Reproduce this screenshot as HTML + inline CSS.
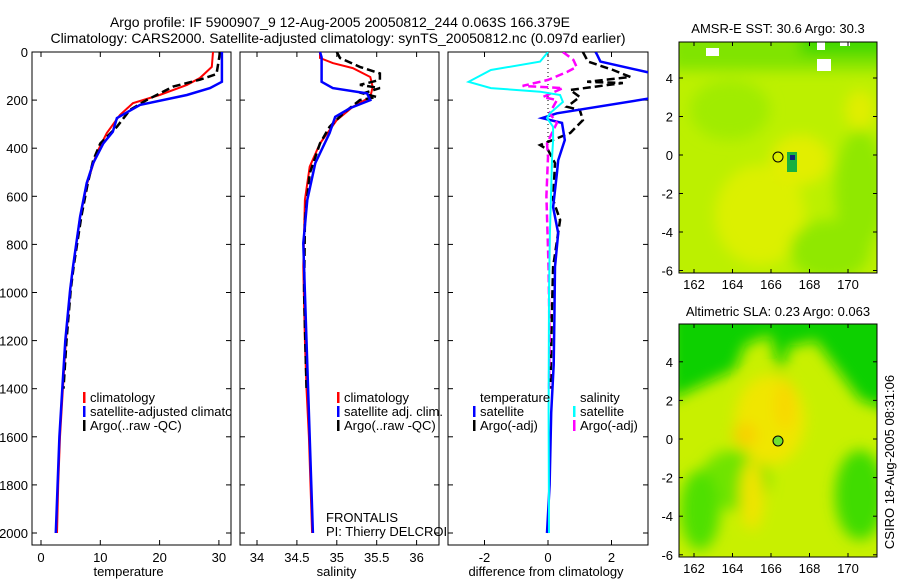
<!DOCTYPE html>
<html><head><meta charset="utf-8"><style>
html,body{margin:0;padding:0;background:#fff}
svg{display:block;font-family:"Liberation Sans",sans-serif}
text{font-size:13px;fill:#000}
</style></head><body>
<svg id="c" width="900" height="580" viewBox="0 0 900 580" xmlns="http://www.w3.org/2000/svg">
<defs>
<filter id="bl" x="-20%" y="-20%" width="140%" height="140%"><feGaussianBlur stdDeviation="7"/></filter>
<clipPath id="cm1"><rect x="679" y="42" width="198" height="231"/></clipPath>
<clipPath id="cm2"><rect x="679" y="324" width="198" height="233"/></clipPath>
<clipPath id="cp1"><rect x="32" y="52" width="199" height="493"/></clipPath>
<clipPath id="cp2"><rect x="240" y="52" width="199" height="493"/></clipPath>
<clipPath id="cp3"><rect x="448" y="52" width="200" height="493"/></clipPath>
<clipPath id="cl2"><rect x="240" y="52" width="207" height="493"/></clipPath>
</defs>
<text x="340" y="27" text-anchor="middle" style="font-size:14px">Argo profile: IF 5900907_9 12-Aug-2005 20050812_244 0.063S 166.379E</text>
<text x="338" y="43" text-anchor="middle" style="font-size:14px">Climatology: CARS2000. Satellite-adjusted climatology: synTS_20050812.nc (0.097d earlier)</text>

<g clip-path="url(#cm1)">
<rect x="679" y="42" width="198" height="231" fill="#bcf000"/>
<g filter="url(#bl)">
<rect x="670" y="30" width="220" height="40" fill="#80e400"/>
<rect x="800" y="30" width="90" height="25" fill="#40d800"/>
<ellipse cx="730" cy="110" rx="40" ry="30" fill="#a0ec00"/>
<ellipse cx="760" cy="215" rx="45" ry="50" fill="#dcf000"/>
<ellipse cx="860" cy="190" rx="25" ry="60" fill="#90e800"/>
<ellipse cx="830" cy="250" rx="40" ry="30" fill="#90e800"/>
<ellipse cx="860" cy="110" rx="15" ry="20" fill="#e0ee00"/>
<ellipse cx="800" cy="160" rx="30" ry="25" fill="#e2ee00"/>
</g>
<rect x="787" y="152" width="10" height="20" fill="#18b040"/>
<rect x="790" y="155" width="5" height="5" fill="#102080"/>
<rect x="706" y="48" width="13" height="8" fill="#fff"/>
<rect x="817" y="42" width="8" height="8" fill="#fff"/>
<rect x="817" y="59" width="14" height="12" fill="#fff"/>
<rect x="840" y="42" width="10" height="4" fill="#fff"/>
</g>
<rect x="679" y="42" width="198" height="231" fill="none" stroke="#000"/>
<circle id="c1" cx="778" cy="157" r="5" fill="none" stroke="#000"/>
<text x="778" y="33" text-anchor="middle">AMSR-E SST: 30.6 Argo: 30.3</text>

<g clip-path="url(#cm2)">
<rect x="679" y="324" width="198" height="233" fill="#c8f000"/>
<g filter="url(#bl)">
<path d="M670 310 L890 310 L890 410 L860 400 L830 360 L815 340 L800 345 L790 345 L780 375 L770 335 L745 345 L735 370 L670 400 Z" fill="#10d000"/>
<ellipse cx="735" cy="480" rx="35" ry="30" fill="#70e400"/>
<ellipse cx="860" cy="495" rx="25" ry="45" fill="#40dc00"/>
<ellipse cx="700" cy="510" rx="20" ry="40" fill="#50e000"/>
<ellipse cx="770" cy="420" rx="35" ry="45" fill="#f0e600"/>
<ellipse cx="745" cy="435" rx="12" ry="12" fill="#f8d000"/>
<ellipse cx="785" cy="405" rx="10" ry="25" fill="#f8d800"/>
<ellipse cx="752" cy="495" rx="12" ry="35" fill="#f0e400"/>
</g>
</g>
<rect x="679" y="324" width="198" height="233" fill="none" stroke="#000"/>
<circle id="c2" cx="778" cy="441" r="5" fill="#70e030" stroke="#000"/>
<text x="778" y="316" text-anchor="middle">Altimetric SLA: 0.23 Argo: 0.063</text>
<text transform="translate(894,462) rotate(-90)" text-anchor="middle">CSIRO 18-Aug-2005 08:31:06</text>

<g id="plots"></g>
</svg>
<script>
var tempClimDepth=[0,62,108,137,179,213,262,337,420,545,685,893,990,1200,1400,1600,1800,2000];
var tempClim=[29.0,28.8,26.8,24.6,20.0,15.5,13.3,11.1,9.4,7.8,6.6,5.4,4.9,4.2,3.7,3.2,2.9,2.7];
var tempSatDepth=[0,124,150,179,220,275,332,380,462,545,685,893,990,1200,1400,1600,1800,2000];
var tempSat=[30.5,30.5,28.5,24.6,16.7,12.8,12.1,10.5,8.8,7.7,6.6,5.4,4.9,4.1,3.6,3.1,2.8,2.5];
var tempArgoDepth=[0,92,115,144,200,241,311,380,450,545,685,893,990,1200,1400];
var tempArgo=[30.2,29.6,26.8,22.3,17.8,15.0,12.8,10.0,8.8,7.9,6.8,5.5,5.0,4.3,3.8];
var salClimDepth=[0,25,46,67,104,145,187,228,283,380,477,615,893,1200,1400,1600,1800,2000];
var salClim=[34.79,34.79,34.95,35.2,35.42,35.45,35.42,35.2,35.0,34.79,34.66,34.6,34.58,34.6,34.62,34.65,34.67,34.69];
var salSatDepth=[0,22,124,150,172,200,233,270,337,462,615,795,1000,1200,1400,1600,1800,2000];
var salSat=[34.79,34.81,34.81,34.95,35.38,35.42,35.17,34.98,34.91,34.73,34.63,34.58,34.6,34.62,34.64,34.66,34.68,34.7];
var salArgoDepth=[0,25,62,89,116,137,150,172,187,200,255,311,380,505,700,1000,1400];
var salArgo=[35.0,35.04,35.29,35.54,35.54,35.29,35.54,35.33,35.5,35.29,35.08,34.91,34.79,34.66,34.6,34.59,34.62];
var dSalSatDepth=[0,40,75,124,150,165,179,208,255,275,311,366,436,753,1000,1500,2000];
var dSalSat=[0,-0.25,-1.8,-2.5,-1.8,-0.25,0.38,0.47,0.06,-0.03,0.16,0.16,0.13,0.06,0.03,0.02,0.03];
var dSalArgoDepth=[0,33,62,83,116,141,150,187,200,255,295,380,436,600,900,1200,1400];
var dSalArgo=[0.47,0.8,0.9,0.6,0,-0.8,0.47,-0.16,0.28,0.05,0.28,-0.03,0,-0.05,0.02,0.05,0.03];
var dTempSatDepth=[0,12,40,89,191,255,275,295,366,450,505,645,753,893,1100,1300,1500,1800,2000];
var dTempSat=[1.5,1.55,1.65,3.3,3.3,0.28,-0.19,0.44,0.53,0.32,0.28,0.16,0.32,0.22,0.2,0.18,0.1,0.05,-0.03];
var dTempArgoDepth=[0,40,75,104,124,129,158,187,228,241,283,337,387,407,462,615,698,893,1100,1400];
var dTempArgo=[1.1,1.26,2.05,2.6,1.23,2.36,0.7,1.0,0.6,1.0,1.1,0.7,-0.25,0,0.22,0.16,0.38,0.16,0.12,0.08];
var depthTicks=[0,200,400,600,800,1000,1200,1400,1600,1800,2000];
var tempTicks=[0,10,20,30];
var salTicks=[34,34.5,35,35.5,36];
var diffTicks=[-2,0,2];
var lonTicks=[162,164,166,168,170];
var latTicks=[4,2,0,-2,-4,-6];

var NS='http://www.w3.org/2000/svg';
function yD(d){return 52+d*0.2405;}
function xT(t){return 41+t*5.93;}
function xS(s){return 257+(s-34)*79.8;}
function xDf(v){return 548+v*31.75;}
function lonX(l){return 694+(l-162)*19.25;}
function lat1Y(l){return 155-l*19.25;}
function lat2Y(l){return 439-l*19.3;}
var G=document.getElementById('plots');
function el(t,a,p){var e=document.createElementNS(NS,t);for(var k in a)e.setAttribute(k,a[k]);(p||G).appendChild(e);return e;}
function txt(x,y,s,anc,p){var e=el('text',{x:x,y:y,'text-anchor':anc||'start'},p);e.textContent=s;return e;}

function panel(x0,w,name,ticks,xf,label,showDepth){
  var r=el('rect',{x:x0,y:52,width:w,height:493,fill:'none',stroke:'#000'});
  
  
  depthTicks.forEach(function(d){
    el('line',{x1:x0,x2:x0+5,y1:yD(d),y2:yD(d),stroke:'#000'});
    el('line',{x1:x0+w,x2:x0+w-5,y1:yD(d),y2:yD(d),stroke:'#000'});
    if(showDepth){var t=txt(x0-4,yD(d)+5,String(d),'end');}
  });
  ticks.forEach(function(v){
    var x=xf(v);
    el('line',{x1:x,x2:x,y1:545,y2:540,stroke:'#000'});
    el('line',{x1:x,x2:x,y1:52,y2:57,stroke:'#000'});
    var t=txt(x,562,String(v),'middle');
    
    
  });
  var l=txt(x0+w/2-(name=='diff'?2:3),576,label,'middle');
  
  
}
function line(xs,ds,xf,color,width,dash,clip,name){
  var pts=xs.map(function(v,i){return xf(v).toFixed(1)+','+yD(ds[i]).toFixed(1);}).join(' ');
  var a={points:pts,fill:'none',stroke:color,'stroke-width':width,'clip-path':'url(#'+clip+')'};
  if(dash)a['stroke-dasharray']=dash;
  var e=el('polyline',a);
  
  
}
function legend(x,y,items,clip){
  var g=el('g',clip?{'clip-path':'url(#'+clip+')'}:{});
  items.forEach(function(it,i){
    var yy=y+i*14;
    if(it[0]){el('rect',{x:x,y:yy-10,width:2.5,height:11,fill:it[0]},g);}
    var t=txt(x+(it[2]===undefined?7:it[2]),yy,it[1],'start',g);
    
    
  });
}

panel(32,199,'temperature',tempTicks,xT,'temperature',true);
line(tempClim,tempClimDepth,xT,'#f00',2,null,'cp1','temp-climatology-line');
line(tempArgo,tempArgoDepth,xT,'#000',2.5,'8,4','cp1','temp-argo-line');
line(tempSat,tempSatDepth,xT,'#00f',2.5,null,'cp1','temp-satellite-line');
legend(83,402,[['#f00','climatology'],['#00f','satellite-adjusted climatology'],['#000','Argo(..raw -QC)']],'cp1');

panel(240,199,'salinity',salTicks,xS,'salinity',false);
line(salClim,salClimDepth,xS,'#f00',2,null,'cp2','sal-climatology-line');
line(salArgo,salArgoDepth,xS,'#000',2.5,'8,4','cp2','sal-argo-line');
line(salSat,salSatDepth,xS,'#00f',2.5,null,'cp2','sal-satellite-line');
legend(337,402,[['#f00','climatology'],['#00f','satellite adj. clim.'],['#000','Argo(..raw -QC)']]);
legend(326,522,[[null,'FRONTALIS',0],[null,'PI: Thierry DELCROIX',0]],'cl2');

panel(448,200,'diff',diffTicks,xDf,'difference from climatology',false);
var z=el('line',{x1:548,x2:548,y1:52,y2:150,stroke:'#000','stroke-dasharray':'1,3','clip-path':'url(#cp3)'});


line(dTempArgo,dTempArgoDepth,xDf,'#000',2.5,'8,4','cp3','diff-temp-argo-line');
line(dTempSat,dTempSatDepth,xDf,'#00f',2.5,null,'cp3','diff-temp-satellite-line');
line(dSalArgo,dSalArgoDepth,xDf,'#f0f',2.5,'8,4','cp3','diff-sal-argo-line');
line(dSalSat,dSalSatDepth,xDf,'#0ff',2,null,'cp3','diff-sal-satellite-line');
legend(473,402,[[null,'temperature'],['#00f','satellite'],['#000','Argo(-adj)']]);
legend(573,402,[[null,'salinity'],['#0ff','satellite'],['#f0f','Argo(-adj)']]);

function mapAxes(top,bot,latY,name){
  lonTicks.forEach(function(l){
    var x=lonX(l);
    el('line',{x1:x,x2:x,y1:top,y2:top+4,stroke:'#000'});
    el('line',{x1:x,x2:x,y1:bot,y2:bot-4,stroke:'#000'});
    var t=txt(x,bot+16,String(l),'middle');
    
    
  });
  latTicks.forEach(function(l){
    var y=latY(l);
    el('line',{x1:679,x2:683,y1:y,y2:y,stroke:'#000'});
    el('line',{x1:877,x2:873,y1:y,y2:y,stroke:'#000'});
    var t=txt(673,y+5,String(l),'end');
    
    
  });
}
mapAxes(42,273,lat1Y,'sst-map');
mapAxes(324,557,lat2Y,'sla-map');
</script>
</body></html>
